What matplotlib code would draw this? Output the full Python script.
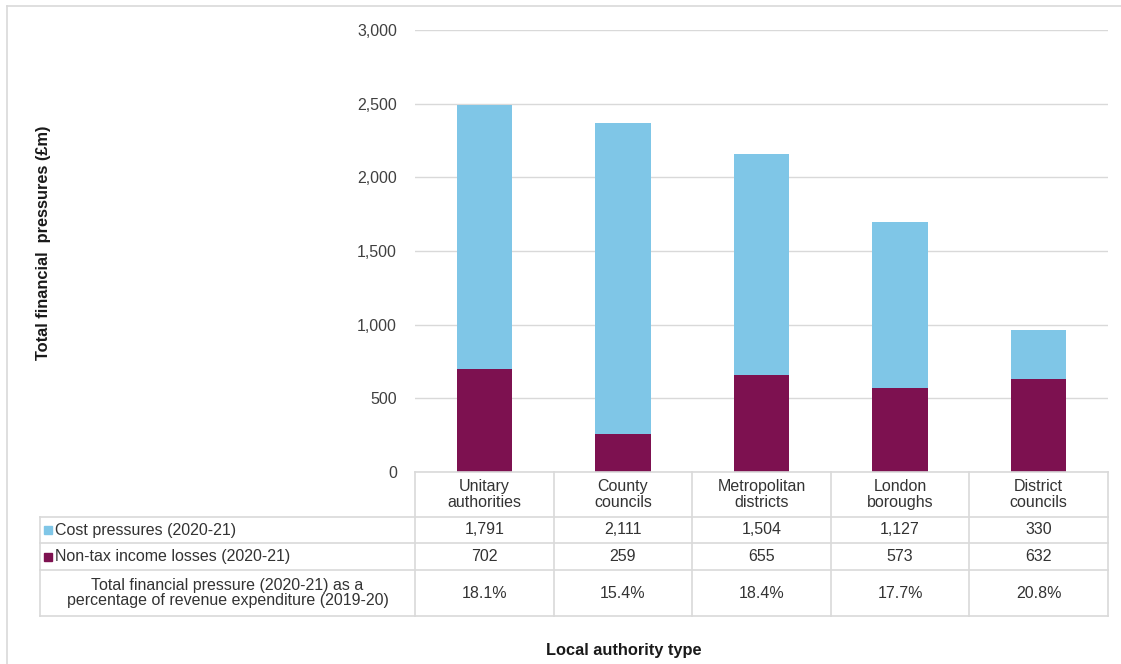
import numpy as np
import matplotlib
matplotlib.use('Agg')
import matplotlib.pyplot as plt
from matplotlib.lines import Line2D

plt.rcParams['font.family'] = ['Liberation Sans', 'DejaVu Sans']

# --- data ---
categories = ['Unitary\nauthorities', 'County\ncouncils', 'Metropolitan\ndistricts',
              'London\nboroughs', 'District\ncouncils']
cost_pressures = [1791, 2111, 1504, 1127, 330]
income_losses = [702, 259, 655, 573, 632]
pct_of_revenue = ['18.1%', '15.4%', '18.4%', '17.7%', '20.8%']
series_labels = ['Cost pressures (2020-21)', 'Non-tax income losses (2020-21)',
                 'Total financial pressure (2020-21) as a\npercentage of revenue expenditure (2019-20)']

BLUE = '#7fc6e7'
MAROON = '#7d1150'
GRID = '#d9d9d9'
TXT = '#333333'

W, H = 1121, 664
fig = plt.figure(figsize=(W / 100, H / 100), dpi=100)


def fx(px):
    return px / W


def fy(py):
    return 1 - py / H


# outer frame (left and top edges visible)
fig.add_artist(Line2D([fx(7), fx(7)], [fy(6), 0], transform=fig.transFigure, color=GRID, lw=1.2))
fig.add_artist(Line2D([fx(7), 1], [fy(6), fy(6)], transform=fig.transFigure, color=GRID, lw=1.2))

# --- main bar chart ---
x0, x1, ytop, ybot = 415, 1108, 30, 472
ax = fig.add_axes([fx(x0), fy(ybot), fx(x1 - x0), (ybot - ytop) / H])
x = np.arange(len(categories))
ax.bar(x, income_losses, width=0.4, color=MAROON, zorder=3)
ax.bar(x, cost_pressures, width=0.4, bottom=income_losses, color=BLUE, zorder=3)
ax.set_xlim(-0.5, len(categories) - 0.5)
ax.set_ylim(0, 3000)
ax.set_yticks(np.arange(0, 3001, 500))
ax.set_yticklabels([f'{v:,}' for v in range(0, 3001, 500)], fontsize=11.5, color='#404040')
ax.set_xticks([])
ax.tick_params(axis='y', length=0, pad=13)
ax.grid(axis='y', color=GRID, lw=1, zorder=0)
for s in ax.spines.values():
    s.set_visible(False)

# --- data table below ---
tl, tr, tt, tb = 40, 1108, 472, 616
cat_w = (x1 - x0) / len(categories)
label_w = (x0 - tl) / cat_w
tax = fig.add_axes([fx(tl), fy(tb), fx(tr - tl), (tb - tt) / H])
tax.set_xlim(-0.5 - label_w, len(categories) - 0.5)
tax.set_ylim(tb - tt, 0)
tax.axis('off')

rows = [0, 45, 71, 98, 144]
xl = -0.5 - label_w
xr = len(categories) - 0.5
lk = dict(color=GRID, lw=1.2, clip_on=False)
# header row lines (category columns only)
tax.plot([-0.5, xr], [0, 0], **lk)
for r in rows[1:]:
    tax.plot([xl, xr], [r, r], **lk)
for b in np.arange(-0.5, len(categories), 1.0):
    tax.plot([b, b], [0, rows[-1]], **lk)
tax.plot([xl, xl], [rows[1], rows[-1]], **lk)

fs = 11.5
for i, c in enumerate(categories):
    tax.text(i, (rows[0] + rows[1]) / 2, c, ha='center', va='center', fontsize=fs,
             color=TXT, linespacing=1.05)
    tax.text(i, (rows[1] + rows[2]) / 2, f'{cost_pressures[i]:,}', ha='center', va='center',
             fontsize=fs, color=TXT)
    tax.text(i, (rows[2] + rows[3]) / 2, f'{income_losses[i]:,}', ha='center', va='center',
             fontsize=fs, color=TXT)
    tax.text(i, (rows[3] + rows[4]) / 2, pct_of_revenue[i], ha='center', va='center',
             fontsize=fs, color=TXT)

mk_x = xl + 8 / cat_w
tx_x = xl + 15 / cat_w
for j, col in enumerate([BLUE, MAROON]):
    yc = (rows[j + 1] + rows[j + 2]) / 2
    tax.plot([mk_x], [yc], marker='s', ms=5.5, color=col, mec=col, clip_on=False)
    tax.text(tx_x, yc, series_labels[j], ha='left', va='center', fontsize=fs, color=TXT)
tax.text(-0.5 - label_w / 2, (rows[3] + rows[4]) / 2, series_labels[2], ha='center',
         va='center', fontsize=fs, color=TXT, linespacing=1.05)

# axis titles
fig.text(fx(44), fy(243), 'Total financial  pressures (£m)', rotation=90, ha='center',
         va='center', fontsize=11.8, fontweight='bold', color='#1a1a1a')
fig.text(fx(624), fy(651), 'Local authority type', ha='center', va='center',
         fontsize=11.8, fontweight='bold', color='#1a1a1a')

fig.savefig('out.png', dpi=100)
